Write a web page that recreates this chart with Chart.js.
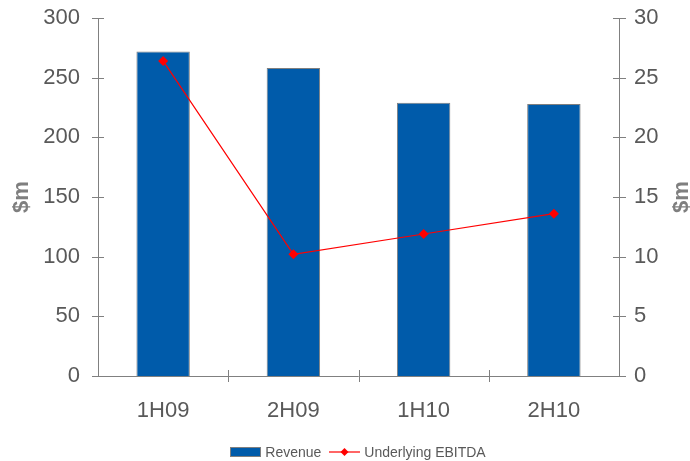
<!DOCTYPE html>
<html>
<head>
<meta charset="utf-8">
<script src="https://cdn.jsdelivr.net/npm/chart.js@4.4.1/dist/chart.umd.min.js"></script>
<style>
  body { margin: 0; background: #fff; }
  #wrap { position: relative; width: 690px; height: 461px; }
  #legend {
    position: absolute; left: 0; top: 443px; width: 690px; height: 18px;
    display: flex; justify-content: center; align-items: center;
    font: 14px "Liberation Sans", Arial, sans-serif; color: #595959;
    padding-left: 26px; box-sizing: border-box;
  }
  .item { display: flex; align-items: center; margin: 0 4px; }
  .swatch { width: 29px; height: 8px; background: #005BAA; border: 1px solid #7f7f7f; margin-right: 4px; }
  svg { margin-right: 4px; }
</style>
</head>
<body>
<div id="wrap">
  <canvas id="chart" width="690" height="461"></canvas>
  <div id="legend">
    <div class="item"><div class="swatch"></div>Revenue</div>
    <div class="item">
      <svg width="31" height="10"><line x1="0" y1="5" x2="31" y2="5" stroke="#ff0000" stroke-width="1.2"/><path d="M15.5 1 L19.5 5 L15.5 9 L11.5 5 Z" fill="#ff0000"/></svg>
      Underlying EBITDA
    </div>
  </div>
</div>
<script>
// data
var periods = ['1H09', '2H09', '1H10', '2H10'];
var revenue = [272, 258, 229, 228];
var ebitda = [26.4, 10.2, 11.9, 13.6];

var axisColor = '#808080';
var textColor = '#595959';

// axes drawn by hand so tick marks cross the axis lines, like the original
var axesPlugin = {
    id: 'crossAxes',
    afterDraw: function(chart) {
        var ctx = chart.ctx;
        var a = chart.chartArea;
        var yl = chart.scales.y, yr = chart.scales.y1;
        ctx.save();
        ctx.strokeStyle = axisColor;
        ctx.lineWidth = 1;
        ctx.beginPath();
        ctx.moveTo(a.left + 0.5, a.top); ctx.lineTo(a.left + 0.5, a.bottom);
        ctx.moveTo(a.right + 0.5, a.top); ctx.lineTo(a.right + 0.5, a.bottom);
        ctx.moveTo(a.left, a.bottom + 0.5); ctx.lineTo(a.right, a.bottom + 0.5);
        yl.ticks.forEach(function(t) {
            var py = Math.round(yl.getPixelForValue(t.value)) + 0.5;
            ctx.moveTo(a.left - 6, py); ctx.lineTo(a.left + 6, py);
        });
        yr.ticks.forEach(function(t) {
            var py = Math.round(yr.getPixelForValue(t.value)) + 0.5;
            ctx.moveTo(a.right - 6, py); ctx.lineTo(a.right + 7, py);
        });
        var w = (a.right - a.left) / periods.length;
        for (var i = 1; i < periods.length; i++) {
            var px = Math.round(a.left + w * i) + 0.5;
            ctx.moveTo(px, a.bottom - 6); ctx.lineTo(px, a.bottom + 6);
        }
        ctx.stroke();

        // "$m" titles, both reading bottom to top
        ctx.fillStyle = '#7f7f7f';
        ctx.font = 'bold 22px "Liberation Sans", Arial, sans-serif';
        ctx.textAlign = 'center';
        ctx.textBaseline = 'middle';
        var cy = (a.top + a.bottom) / 2;
        [22, 682].forEach(function(cx) {
            ctx.save();
            ctx.translate(cx, cy);
            ctx.rotate(-Math.PI / 2);
            ctx.fillText('$m', 0, 0);
            ctx.restore();
        });
        ctx.restore();
    }
};

var tickFont = { family: '"Liberation Sans", Arial, sans-serif', size: 22 };

function fixY(w) {
    return function(s) { s.width = w; s.paddingTop = 0; s.paddingBottom = 0; };
}

new Chart(document.getElementById('chart'), {
    data: {
        labels: periods,
        datasets: [{
            type: 'line',
            label: 'Underlying EBITDA',
            data: ebitda,
            yAxisID: 'y1',
            borderColor: '#ff0000',
            backgroundColor: '#ff0000',
            borderWidth: 1.2,
            pointStyle: 'rectRot',
            pointRadius: 5,
            pointBorderWidth: 0,
            tension: 0,
            order: 0
        }, {
            type: 'bar',
            label: 'Revenue',
            data: revenue,
            yAxisID: 'y',
            backgroundColor: '#005BAA',
            borderColor: '#7f7f7f',
            borderWidth: 1,
            barPercentage: 0.41,
            categoryPercentage: 1,
            order: 1
        }]
    },
    options: {
        responsive: false,
        animation: false,
        layout: { padding: { top: 18 } },
        plugins: { legend: { display: false }, tooltip: { enabled: false } },
        scales: {
            x: {
                grid: { display: false, drawTicks: false },
                border: { display: false },
                ticks: { color: textColor, font: tickFont, padding: 22 },
                afterFit: function(s) { s.height = 85; s.paddingLeft = 0; s.paddingRight = 0; }
            },
            y: {
                position: 'left',
                min: 0, max: 300,
                grid: { display: false, drawTicks: false },
                border: { display: false },
                ticks: { stepSize: 50, color: textColor, font: tickFont, padding: 18 },
                afterFit: fixY(98)
            },
            y1: {
                position: 'right',
                min: 0, max: 30,
                grid: { display: false, drawTicks: false },
                border: { display: false },
                ticks: { stepSize: 5, color: textColor, font: tickFont, padding: 15 },
                afterFit: fixY(71)
            }
        }
    },
    plugins: [axesPlugin]
});
</script>
</body>
</html>
